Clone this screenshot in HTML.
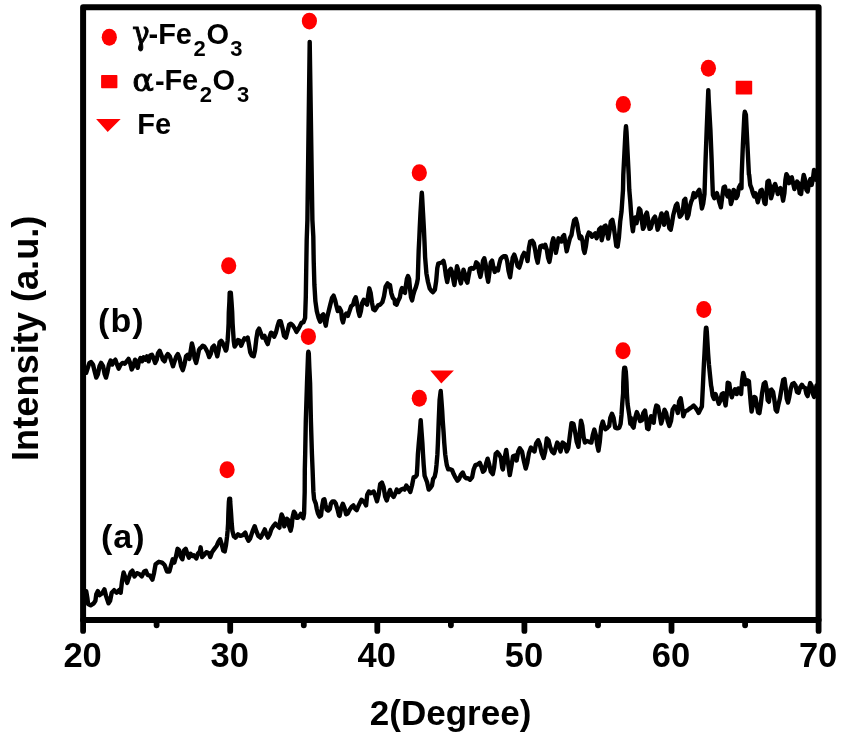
<!DOCTYPE html>
<html lang="en"><head><meta charset="utf-8"><title>XRD patterns</title>
<style>
html,body{margin:0;padding:0;background:#fff;}
body{width:842px;height:738px;overflow:hidden;}
svg{display:block;}
text{font-family:"Liberation Sans",Arial,Helvetica,sans-serif;font-weight:bold;fill:#000;}
.gk{font-family:"DejaVu Math TeX Gyre","DejaVu Serif","Liberation Serif",serif;font-weight:normal;stroke:#000;stroke-width:1px;}
</style></head><body>
<svg width="842" height="738" viewBox="0 0 842 738">
<rect x="0" y="0" width="842" height="738" fill="#ffffff"/>
<g fill="none" stroke="#000" stroke-width="4.4" stroke-linejoin="round" stroke-linecap="round">
<path d="M86.2,372.7 L87.8,367.8 L89.4,362.9 L91.1,362.1 L93.0,364.6 L94.6,371.1 L96.3,377.6 L97.9,374.3 L99.5,366.2 L101.1,362.9 L103.1,366.2 L104.7,374.3 L106.0,377.6 L107.3,372.7 L108.9,364.6 L110.6,360.5 L112.2,364.6 L113.8,361.3 L115.4,359.7 L117.1,364.6 L118.7,368.6 L120.7,364.6 L122.6,362.9 L124.7,363.7 L126.8,361.3 L128.5,358.9 L130.1,362.9 L131.7,369.4 L133.3,366.2 L135.0,359.7 L136.6,364.6 L137.7,367.8 L138.9,361.3 L140.5,358.0 L142.1,361.3 L143.7,357.2 L145.4,359.7 L147.0,356.4 L148.6,361.3 L150.2,355.6 L151.9,354.8 L153.5,358.0 L155.1,362.9 L156.7,359.7 L158.0,353.2 L159.7,350.7 L161.3,354.8 L162.9,359.7 L164.6,361.3 L166.2,356.4 L167.8,354.0 L169.8,356.4 L171.4,361.3 L173.0,366.2 L174.6,361.3 L176.3,356.4 L177.9,354.0 L179.5,358.0 L181.1,366.2 L182.8,370.2 L184.4,364.6 L186.0,356.4 L187.6,354.8 L189.3,358.9 L190.6,351.5 L191.9,343.4 L193.2,348.3 L194.5,358.0 L196.1,362.9 L197.7,356.4 L199.0,349.9 L200.0,348.3 L200.6,348.1 L202.7,345.7 L204.3,346.5 L205.9,348.9 L207.6,352.2 L209.2,357.1 L210.8,353.8 L212.4,347.3 L214.1,345.7 L215.7,350.6 L217.3,356.3 L218.5,350.6 L219.6,342.4 L221.2,340.8 L222.8,343.3 L224.5,347.3 L225.8,350.6 L226.5,349.3 L227.6,340.7 L228.3,329.8 L228.6,323.3 L228.8,312.5 L229.4,301.7 L229.7,292.6 L230.8,292.6 L231.5,301.7 L232.2,312.5 L232.6,323.3 L233.3,334.2 L233.7,340.7 L234.5,346.1 L234.7,346.5 L236.3,344.1 L238.0,340.0 L239.6,340.8 L241.2,345.7 L242.8,341.6 L244.5,338.4 L246.1,339.2 L247.7,337.6 L248.9,344.1 L250.2,352.2 L251.8,355.4 L253.7,356.3 L255.0,350.6 L256.3,339.2 L257.6,331.1 L259.1,328.6 L260.7,332.7 L262.4,337.6 L264.5,335.9 L266.1,340.8 L267.7,344.1 L269.3,337.6 L271.0,332.7 L272.6,333.5 L274.2,336.7 L275.9,332.7 L277.5,326.2 L279.1,321.3 L280.7,321.3 L282.4,327.8 L284.0,335.9 L285.9,337.6 L287.6,331.1 L289.2,324.6 L290.8,323.7 L292.8,325.4 L294.9,328.6 L296.5,331.9 L298.1,329.4 L299.8,326.2 L301.4,322.9 L303.5,322.1 L305.1,318.0 L305.8,296.9 L306.3,264.4 L306.7,240.0 L307.4,220.0 L309.7,41.9 L312.4,220.0 L313.3,236.3 L313.7,260.7 L314.4,285.0 L315.4,301.3 L316.8,311.1 L318.5,317.6 L320.1,321.6 L321.7,315.9 L323.3,314.3 L324.5,320.8 L325.8,325.7 L327.1,317.6 L328.7,311.1 L330.3,304.6 L332.0,298.0 L333.6,295.6 L335.2,300.5 L336.5,306.2 L337.8,311.1 L339.4,307.8 L341.1,311.1 L342.0,319.2 L343.0,322.4 L344.6,315.9 L346.3,313.5 L347.9,315.9 L349.5,311.1 L351.1,306.2 L353.1,304.6 L354.4,299.7 L355.7,297.2 L357.0,302.9 L358.3,311.1 L359.6,315.9 L360.9,311.1 L362.2,302.9 L363.8,299.7 L365.4,302.9 L367.1,304.6 L368.0,296.4 L369.3,288.3 L370.7,293.2 L372.0,302.9 L373.3,309.4 L374.9,310.2 L376.5,307.8 L378.1,305.4 L380.2,304.6 L382.4,302.1 L384.0,296.4 L385.6,286.7 L387.6,283.4 L389.2,286.7 L390.0,285.0 L391.3,293.2 L392.9,298.0 L394.6,299.7 L395.0,303.7 L396.6,304.8 L398.3,300.4 L399.9,297.2 L401.0,290.7 L402.0,288.0 L403.7,291.8 L405.0,292.8 L405.8,286.3 L406.9,278.8 L408.0,276.0 L409.1,278.8 L410.0,288.5 L411.0,297.2 L412.1,300.4 L413.2,295.0 L414.5,290.7 L415.8,287.4 L417.0,283.1 L417.8,278.8 L418.3,262.5 L418.7,250.0 L419.2,240.0 L419.7,228.8 L420.5,212.5 L421.5,196.3 L421.8,192.6 L422.1,196.3 L423.0,212.5 L423.9,228.8 L424.5,242.0 L425.1,257.1 L426.4,273.3 L428.0,282.0 L429.7,288.5 L431.3,290.7 L432.9,292.3 L434.9,289.6 L436.2,280.9 L437.3,267.9 L438.3,263.6 L440.0,263.0 L441.8,262.5 L443.5,260.9 L444.6,265.8 L445.9,275.5 L447.2,282.0 L448.2,276.9 L449.5,270.4 L450.8,268.8 L452.1,272.0 L453.4,280.2 L454.4,285.0 L455.7,275.3 L457.0,266.3 L458.3,270.4 L459.6,278.5 L460.9,283.4 L462.2,276.9 L463.5,269.6 L464.8,273.7 L466.1,280.2 L467.4,282.6 L468.7,275.3 L470.0,268.8 L471.6,268.0 L473.3,268.8 L474.9,267.2 L476.2,262.3 L477.8,263.9 L479.1,272.0 L480.4,276.9 L481.7,270.4 L483.0,260.7 L484.3,258.2 L485.6,263.9 L486.9,275.3 L488.2,281.8 L489.5,272.0 L490.8,262.3 L492.1,260.7 L493.4,267.2 L494.7,272.0 L496.3,268.8 L498.0,270.4 L499.3,263.9 L500.6,259.0 L501.6,257.8 L503.6,256.2 L505.7,256.2 L507.2,261.1 L508.5,270.8 L510.1,277.3 L511.4,267.6 L512.7,257.8 L514.3,254.6 L515.9,259.4 L517.6,265.9 L519.2,267.6 L520.8,262.7 L522.4,256.2 L524.1,252.9 L526.0,254.6 L527.6,261.1 L528.9,248.0 L530.2,241.5 L532.2,240.7 L533.8,243.2 L535.1,249.7 L536.4,257.8 L537.7,262.7 L539.0,254.6 L540.3,246.4 L542.3,245.6 L543.9,247.2 L545.2,244.8 L546.8,249.7 L548.1,257.8 L549.4,261.9 L550.7,254.6 L552.0,243.2 L553.3,238.3 L554.6,243.2 L555.9,252.9 L557.2,246.4 L558.5,238.3 L560.2,239.9 L561.5,241.5 L562.8,236.7 L564.1,235.0 L565.4,243.2 L566.7,251.3 L568.3,244.8 L569.9,238.3 L571.5,235.0 L572.8,226.9 L574.1,220.4 L575.8,218.8 L577.1,223.7 L578.4,231.8 L579.7,238.3 L581.3,236.7 L582.6,241.5 L583.6,249.7 L584.6,252.9 L585.9,246.4 L587.2,236.7 L588.8,232.6 L590.4,233.4 L592.0,236.7 L593.7,235.0 L595.3,233.4 L596.6,238.3 L597.9,235.0 L599.2,229.3 L600.8,227.7 L601.7,240.2 L603.0,234.6 L604.3,226.4 L605.6,225.6 L606.9,231.3 L608.2,238.6 L609.5,231.3 L610.8,221.5 L612.4,219.9 L613.7,226.4 L615.0,236.2 L616.3,245.9 L617.6,246.7 L618.9,237.8 L620.2,221.5 L621.5,211.8 L622.2,201.7 L623.0,190.0 L623.3,175.0 L624.4,153.3 L625.5,131.7 L626.0,126.3 L626.5,131.7 L627.6,153.3 L628.7,175.0 L629.3,190.0 L630.3,201.7 L631.0,211.8 L632.0,224.8 L632.9,231.3 L633.9,223.2 L635.2,217.5 L636.5,223.2 L637.8,216.7 L639.1,208.5 L640.4,210.2 L641.7,219.9 L643.0,228.9 L644.3,226.4 L645.6,215.0 L646.9,212.6 L648.2,219.9 L649.5,228.9 L650.8,228.0 L652.1,223.2 L653.7,218.3 L655.0,216.7 L656.3,221.5 L657.6,229.7 L658.9,226.4 L660.2,218.3 L661.5,213.4 L662.8,218.3 L664.1,224.8 L665.4,215.0 L666.7,212.6 L668.0,219.9 L669.3,228.0 L670.7,229.7 L672.0,223.2 L673.3,215.0 L674.6,210.2 L675.9,205.3 L677.2,203.7 L678.5,210.2 L679.8,216.7 L681.4,215.0 L682.7,211.8 L684.0,200.4 L685.3,198.8 L686.3,208.5 L687.2,218.3 L688.5,215.0 L689.8,206.9 L691.1,202.0 L692.4,198.8 L693.7,193.1 L695.0,197.2 L696.3,195.5 L697.6,192.3 L699.3,189.8 L700.6,198.8 L701.9,208.5 L703.2,203.7 L704.5,193.9 L705.1,174.4 L705.6,159.4 L706.7,129.6 L707.9,99.8 L708.3,90.1 L708.7,99.8 L710.4,129.6 L711.6,159.4 L712.3,179.9 L712.9,194.8 L714.3,198.2 L715.6,194.8 L716.9,193.2 L718.3,198.2 L719.6,203.2 L720.9,207.3 L722.3,196.5 L723.6,187.4 L724.9,186.5 L726.2,193.2 L727.6,196.5 L728.9,190.7 L729.9,196.5 L730.9,204.0 L732.2,199.8 L733.6,189.9 L734.9,191.5 L736.2,198.2 L737.6,195.7 L738.9,187.4 L740.2,184.9 L741.5,188.2 L741.7,174.3 L742.9,144.5 L744.4,114.7 L744.8,111.7 L745.9,114.7 L747.4,144.5 L748.9,174.3 L749.2,174.9 L750.2,184.9 L751.5,188.2 L752.9,193.2 L754.2,196.5 L755.5,193.2 L756.8,198.2 L757.8,202.3 L759.2,196.5 L760.5,190.7 L761.8,189.9 L763.2,196.5 L764.5,203.2 L765.5,204.0 L766.5,193.2 L767.5,181.5 L768.8,180.7 L770.1,186.5 L771.1,198.2 L772.5,193.2 L773.8,186.5 L775.1,184.0 L776.5,188.2 L777.8,194.0 L779.1,189.9 L780.5,188.2 L781.8,193.2 L783.1,200.7 L784.4,193.2 L785.4,179.9 L786.4,174.1 L787.8,176.6 L789.1,183.2 L790.4,178.2 L791.8,177.4 L793.1,183.2 L794.4,189.0 L795.7,184.9 L797.1,181.5 L798.4,183.2 L799.7,193.2 L801.1,194.0 L802.4,183.2 L803.7,174.9 L805.1,179.9 L806.4,189.9 L807.7,191.5 L809.0,183.2 L810.4,179.0 L811.7,184.9 L813.0,178.2 L814.0,169.9 L815.4,171.6 L816.4,179.9"/>
<path d="M86.2,591.1 L87.3,597.6 L88.1,604.1 L90.6,605.4 L93.8,603.3 L95.4,600.8 L96.3,594.3 L97.9,591.1 L99.5,595.1 L102.0,593.5 L104.4,589.4 L106.0,595.9 L108.5,603.3 L110.1,600.8 L111.7,592.7 L114.1,590.2 L116.6,592.7 L119.0,590.2 L120.7,592.7 L122.0,581.3 L123.6,572.4 L125.5,578.0 L127.2,582.9 L128.8,578.0 L130.7,572.4 L132.4,570.7 L134.5,576.4 L136.9,573.2 L139.3,574.0 L141.8,576.4 L144.2,571.5 L145.9,570.7 L147.5,574.8 L149.9,575.6 L152.4,579.7 L154.0,573.2 L155.6,564.2 L158.9,561.8 L162.1,562.6 L164.6,565.0 L167.0,571.5 L169.4,571.5 L171.1,565.0 L172.7,559.3 L174.3,562.6 L175.9,556.9 L177.6,548.8 L179.2,550.4 L180.8,556.9 L182.4,559.3 L184.1,550.4 L185.7,548.8 L187.3,553.7 L188.9,557.7 L190.6,553.7 L192.2,556.1 L193.8,555.3 L196.3,558.5 L197.9,553.7 L200.0,551.2 L200.6,547.3 L202.2,557.1 L204.6,554.6 L206.3,552.2 L208.7,553.0 L210.3,557.1 L212.0,552.2 L214.4,548.9 L216.8,545.7 L218.5,541.6 L220.1,539.2 L221.7,544.1 L223.3,550.6 L224.7,551.5 L226.0,545.0 L227.1,536.3 L227.6,530.9 L228.1,523.3 L228.4,512.5 L228.9,501.7 L229.3,498.6 L230.1,498.6 L230.2,501.7 L231.0,512.5 L231.7,523.3 L232.4,530.9 L233.8,536.3 L235.2,537.2 L235.5,537.6 L238.0,534.3 L240.4,535.9 L242.8,535.1 L245.3,532.7 L246.9,537.6 L248.5,540.8 L250.2,538.4 L252.6,531.1 L254.7,526.2 L256.3,531.1 L258.3,535.9 L260.7,537.6 L263.2,532.7 L264.8,529.4 L266.4,534.3 L268.0,537.6 L269.7,534.3 L271.3,529.4 L273.3,526.2 L275.4,523.7 L277.8,526.2 L279.4,527.8 L280.0,522.0 L281.6,514.4 L283.0,517.7 L284.3,526.3 L286.0,520.9 L287.0,518.8 L288.1,519.8 L289.2,526.3 L290.6,530.7 L291.7,526.3 L292.5,517.7 L293.9,511.7 L295.2,513.3 L296.3,517.7 L297.9,517.7 L299.5,516.0 L300.8,513.9 L302.2,516.6 L303.3,518.2 L304.1,513.3 L304.4,502.5 L304.7,491.7 L304.8,470.0 L305.2,453.3 L305.8,420.8 L307.0,383.3 L307.6,367.0 L308.1,353.5 L308.4,351.7 L308.8,353.5 L309.3,367.0 L310.1,383.3 L310.9,420.8 L311.9,453.3 L312.6,470.0 L313.0,480.8 L313.4,491.7 L314.1,499.3 L315.8,503.6 L316.8,509.0 L317.9,513.3 L319.5,516.6 L321.0,515.5 L322.0,506.8 L323.3,499.8 L324.4,499.3 L325.5,504.7 L326.6,509.5 L328.2,510.6 L329.8,509.0 L330.9,503.6 L332.5,501.4 L334.2,501.4 L335.8,503.6 L337.4,509.0 L339.0,515.5 L339.6,515.9 L341.2,507.8 L342.8,503.7 L344.5,507.8 L346.1,514.3 L347.7,513.5 L349.3,510.2 L351.5,507.0 L353.4,505.4 L355.0,508.6 L356.7,510.2 L358.3,506.2 L359.9,502.9 L361.5,499.7 L363.2,501.3 L364.8,502.9 L366.1,505.4 L367.2,494.8 L368.9,491.5 L370.5,493.2 L372.1,492.4 L373.7,491.5 L375.4,496.4 L377.0,501.3 L378.6,494.8 L380.2,484.2 L381.9,482.6 L383.5,486.7 L385.1,496.4 L386.7,500.5 L388.4,494.8 L390.0,489.9 L391.6,494.5 L393.6,496.9 L395.2,493.7 L396.8,489.6 L398.9,492.0 L401.1,489.6 L403.0,488.8 L404.6,489.6 L406.3,485.5 L408.2,488.0 L410.3,492.0 L412.0,485.5 L413.6,477.4 L415.7,476.6 L416.8,475.0 L417.4,465.0 L417.9,454.2 L418.8,443.3 L419.8,432.5 L420.7,420.2 L421.6,432.5 L422.4,443.3 L423.0,454.2 L423.7,465.0 L424.6,475.8 L427.1,482.3 L428.7,489.6 L430.3,488.0 L432.0,485.5 L433.1,479.0 L434.7,476.6 L435.8,471.5 L436.5,465.0 L437.4,454.2 L437.9,443.3 L438.3,432.5 L438.7,421.7 L439.6,400.0 L440.7,390.9 L441.4,400.0 L442.2,410.8 L442.8,421.7 L443.6,432.5 L444.3,443.3 L445.2,454.2 L446.1,460.7 L446.8,465.0 L448.2,469.3 L450.2,469.3 L452.1,470.1 L453.7,474.1 L455.4,477.4 L457.5,480.7 L459.1,479.0 L460.7,475.0 L462.8,472.5 L464.5,476.6 L466.1,478.2 L468.0,478.2 L470.0,479.8 L472.1,477.4 L473.7,469.3 L475.4,465.2 L477.8,464.4 L479.8,462.8 L481.4,466.8 L483.0,471.7 L484.6,470.1 L486.3,462.8 L487.6,458.7 L489.2,464.4 L490.8,471.7 L492.8,474.1 L494.1,467.6 L495.7,453.8 L497.3,452.2 L499.3,454.6 L500.9,457.9 L502.2,467.6 L502.9,469.4 L504.6,458.0 L506.2,449.9 L507.8,461.3 L509.8,475.1 L511.4,466.2 L513.0,456.4 L515.0,455.6 L516.6,460.5 L518.2,451.5 L519.8,448.3 L522.0,451.5 L523.6,459.7 L525.7,468.6 L527.3,462.9 L528.9,453.2 L530.9,447.5 L532.5,449.9 L534.5,451.5 L536.1,443.4 L538.2,440.2 L539.8,444.2 L541.5,452.4 L543.6,458.0 L545.2,451.5 L546.8,438.5 L548.5,440.2 L550.1,446.7 L552.0,451.5 L554.0,453.2 L555.6,448.3 L557.2,442.6 L558.9,445.0 L560.5,451.5 L562.6,442.6 L564.7,444.2 L566.7,451.5 L568.3,448.3 L569.9,435.3 L571.5,423.1 L573.5,423.9 L575.1,432.0 L576.7,441.8 L578.4,446.7 L579.7,433.7 L581.0,420.7 L582.3,425.5 L583.6,436.9 L584.9,442.6 L587.0,441.0 L589.1,441.8 L591.4,442.6 L592.7,435.3 L594.3,429.6 L595.9,435.3 L597.2,445.0 L598.5,450.7 L599.8,441.8 L601.1,427.2 L602.8,421.5 L604.4,427.2 L605.4,429.2 L607.6,427.6 L609.2,425.9 L610.3,417.8 L612.0,413.7 L613.6,417.8 L615.2,427.6 L617.3,428.4 L619.3,427.6 L620.6,423.7 L621.5,415.0 L622.2,404.2 L623.1,393.3 L623.3,382.5 L623.8,371.7 L624.3,367.6 L625.1,367.6 L625.8,371.7 L626.5,382.5 L626.9,393.3 L627.6,404.2 L629.3,415.0 L630.3,423.7 L630.7,417.8 L632.3,425.9 L633.6,427.6 L635.2,417.8 L636.8,412.1 L638.5,416.2 L640.1,421.1 L642.0,420.2 L643.3,412.9 L645.0,410.5 L646.1,417.8 L647.2,428.4 L648.5,429.2 L649.8,421.1 L651.0,416.2 L652.6,421.1 L653.7,422.7 L655.0,411.3 L656.3,405.6 L658.0,406.4 L659.6,414.6 L661.2,423.5 L662.8,417.8 L664.5,409.7 L666.1,412.9 L667.7,421.1 L669.3,425.9 L671.0,421.1 L672.6,409.7 L674.6,406.4 L676.5,408.0 L677.8,412.9 L679.1,401.5 L680.7,398.3 L682.0,406.4 L683.3,416.2 L685.1,411.3 L687.2,410.5 L689.2,408.9 L691.6,407.2 L693.7,405.6 L695.7,408.0 L697.3,410.5 L698.6,412.9 L700.2,409.7 L701.9,406.4 L702.9,385.8 L703.9,364.2 L704.5,353.3 L705.6,331.7 L706.0,327.6 L706.4,327.6 L706.8,331.7 L708.1,353.3 L708.9,364.2 L711.1,385.8 L711.5,387.6 L712.6,395.7 L713.9,398.9 L715.5,394.1 L717.2,398.9 L718.8,403.8 L720.4,400.6 L721.7,394.1 L723.3,393.3 L724.5,400.6 L725.6,405.4 L726.9,394.1 L727.7,382.7 L729.3,383.5 L730.5,392.4 L731.8,397.3 L733.4,392.4 L735.0,389.2 L736.7,394.1 L738.3,388.4 L739.9,389.2 L741.1,394.1 L742.0,381.1 L743.2,372.9 L744.5,377.8 L745.6,384.3 L747.2,380.2 L748.9,381.1 L749.7,390.8 L750.8,403.8 L751.6,411.5 L752.9,405.0 L754.2,396.9 L755.5,397.7 L756.8,405.0 L758.1,412.4 L759.4,413.2 L760.7,405.0 L762.0,393.7 L763.7,383.9 L765.3,382.3 L766.6,388.8 L767.7,400.2 L768.9,401.8 L770.2,390.4 L771.5,389.6 L773.1,392.0 L774.4,400.2 L775.7,409.9 L777.0,411.5 L778.3,405.0 L779.9,398.5 L781.5,388.8 L783.2,379.8 L784.5,379.0 L785.6,387.2 L786.7,398.5 L788.0,402.6 L789.3,396.9 L790.7,388.8 L792.3,383.9 L793.9,383.1 L795.5,385.5 L797.0,392.0 L798.6,392.8 L800.2,387.2 L801.9,384.7 L803.5,387.2 L805.1,388.0 L806.4,393.7 L807.6,396.1 L808.9,388.8 L810.2,383.1 L811.6,385.5 L812.8,393.7 L814.1,396.9 L815.4,390.4 L816.5,385.5"/>
</g>
<rect x="83.1" y="7.2" width="735.5" height="612.7" fill="none" stroke="#000" stroke-width="6" stroke-linejoin="round"/>
<g stroke="#000" stroke-width="5.8" stroke-linecap="round">
<line x1="83.1" y1="619.9" x2="83.1" y2="630.9"/>
<line x1="230.2" y1="619.9" x2="230.2" y2="630.9"/>
<line x1="377.3" y1="619.9" x2="377.3" y2="630.9"/>
<line x1="524.4" y1="619.9" x2="524.4" y2="630.9"/>
<line x1="671.5" y1="619.9" x2="671.5" y2="630.9"/>
<line x1="818.6" y1="619.9" x2="818.6" y2="630.9"/>
<line x1="156.6" y1="619.9" x2="156.6" y2="625.3"/>
<line x1="303.8" y1="619.9" x2="303.8" y2="625.3"/>
<line x1="450.9" y1="619.9" x2="450.9" y2="625.3"/>
<line x1="598.0" y1="619.9" x2="598.0" y2="625.3"/>
<line x1="745.1" y1="619.9" x2="745.1" y2="625.3"/>
</g>
<g font-size="34.5" text-anchor="middle">
<text x="82.6" y="666.9">20</text>
<text x="229.7" y="666.9">30</text>
<text x="376.8" y="666.9">40</text>
<text x="523.9" y="666.9">50</text>
<text x="671.0" y="666.9">60</text>
<text x="818.1" y="666.9">70</text>
</g>
<text x="450.6" y="725.3" font-size="35" text-anchor="middle">2(Degree)</text>
<text transform="translate(38.3,338.3) rotate(-90)" font-size="36.2" text-anchor="middle">Intensity (a.u.)</text>
<text x="123.2" y="548" font-size="34" letter-spacing="1" text-anchor="middle">(a)</text>
<text x="121.3" y="332.4" font-size="34" letter-spacing="1" text-anchor="middle">(b)</text>
<g fill="#ff0000">
<ellipse cx="227.1" cy="469.8" rx="7.6" ry="8.45"/>
<ellipse cx="308.4" cy="336.6" rx="7.6" ry="8.45"/>
<ellipse cx="419.3" cy="398.2" rx="7.6" ry="8.45"/>
<ellipse cx="623.0" cy="350.8" rx="7.6" ry="8.45"/>
<ellipse cx="703.8" cy="309.5" rx="7.6" ry="8.45"/>
<ellipse cx="228.7" cy="265.7" rx="7.6" ry="8.45"/>
<ellipse cx="309.4" cy="21.1" rx="7.6" ry="8.45"/>
<ellipse cx="419.3" cy="172.8" rx="7.6" ry="8.45"/>
<ellipse cx="623.3" cy="104.4" rx="7.6" ry="8.45"/>
<ellipse cx="708.4" cy="68.3" rx="7.6" ry="8.45"/>
<ellipse cx="109.3" cy="37.2" rx="7.6" ry="8.45"/>
<rect x="735.7" y="80.8" width="16.5" height="13.7" rx="0.8"/>
<rect x="101.1" y="75" width="16.3" height="13.2" rx="0.8"/>
<polygon points="430.2,370.5 453.9,370.5 441.3,383.4"/>
<polygon points="96.1,119 120.7,119 107.7,132.1"/>
</g>
<g font-size="29">
<text transform="translate(130.9,44.2) scale(0.91,1)" class="gk" font-size="32">γ</text>
<text x="148.6" y="44.3">-</text>
<text x="158.3" y="43.6">F</text>
<text x="175.8" y="43.6">e</text>
<text x="193.4" y="55.5" font-size="22">2</text>
<text x="206.6" y="43.6">O</text>
<text x="230.2" y="55.5" font-size="22">3</text>
<text x="131.4" y="91.1" class="gk" font-size="31.6">α</text>
<text x="155.1" y="90.7">-</text>
<text x="164.6" y="89.9">F</text>
<text x="182" y="89.9">e</text>
<text x="199.7" y="101.9" font-size="22">2</text>
<text x="212.6" y="89.9">O</text>
<text x="237" y="101.9" font-size="22">3</text>
<text x="137.2" y="134">F</text>
<text x="155" y="134">e</text>
</g>
</svg>
</body></html>
